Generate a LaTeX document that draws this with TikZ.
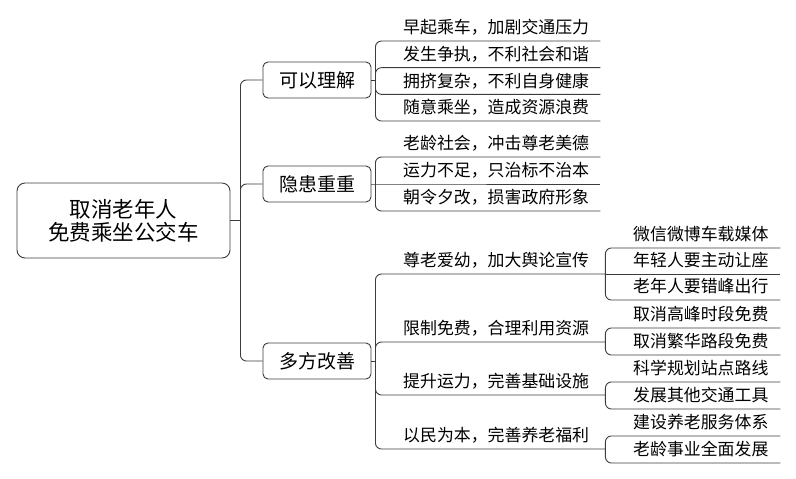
\documentclass[tikz,border=0pt]{standalone}
\usepackage{fontspec}
\setmainfont{Noto Sans CJK SC}
\usepackage{xcolor}
\definecolor{linegray}{RGB}{60,60,60}

\begin{document}
\begin{tikzpicture}[x=1pt, y=-1pt,
    conn/.style={draw=linegray, line width=0.9pt},
    elbow/.style={conn, rounded corners=6pt},
    topic/.style={draw=linegray, line width=0.9pt, rounded corners=5pt, minimum width=108pt, minimum height=36pt, inner sep=0pt, font=\fontsize{19}{22}\selectfont},
    leaf/.style={anchor=south west, inner xsep=0pt, inner ysep=7pt, text depth=0pt, align=left, font=\fontsize{16.9}{20}\selectfont}]
    \useasboundingbox (0,0) rectangle (796,479);

    \node[topic, minimum width=213pt, minimum height=75pt, rounded corners=8pt, align=center, font=\fontsize{21.5}{23}\selectfont] (root) at (123.5,220.5) {取消老年人\\免费乘坐公交车};

    \node[topic] (under) at (317,80) {可以理解};
    \node[topic] (risk) at (317,184) {隐患重重};
    \node[topic] (improve) at (317,361) {多方改善};

    \coordinate (hub) at ([xshift=10pt]root.east);
    \draw[conn] (root.east) -- (hub);
    \foreach \b in {under,risk,improve}
        \draw[elbow] (hub) |- (\b.west);

    \foreach \t [count=\i] in {早起乘车，加剧交通压力, 发生争执，不利社会和谐, 拥挤复杂，不利自身健康, 随意乘坐，造成资源浪费}
        \node[leaf, text width=197pt] (u\i) at (403,14.33+26.67*\i) {\t};
    \coordinate (uj) at ([xshift=4pt]under.east);
    \draw[conn] (under.east) -- (uj);
    \foreach \i in {1,...,4}
        \draw[elbow] (uj) |- (u\i.south east);

    \node[leaf, text width=197pt] (r1) at (403,157) {老龄社会，冲击尊老美德};
    \node[leaf, text width=197pt] (r2) at (403,184) {运力不足，只治标不治本};
    \node[leaf, text width=197pt] (r3) at (403,211) {朝令夕改，损害政府形象};
    \coordinate (rj) at ([xshift=4pt]risk.east);
    \draw[conn] (risk.east) -- (rj) -- (r2.south east);
    \draw[elbow] (rj) |- (r1.south east);
    \draw[elbow] (rj) |- (r3.south east);

    \node[leaf, text width=202pt] (m1) at (403,274) {尊老爱幼，加大舆论宣传};
    \node[leaf, text width=202pt] (m2) at (403,342) {限制免费，合理利用资源};
    \node[leaf, text width=202pt] (m3) at (403,395) {提升运力，完善基础设施};
    \node[leaf, text width=202pt] (m4) at (403,449) {以民为本，完善养老福利};
    \coordinate (mj) at ([xshift=4pt]improve.east);
    \draw[conn] (improve.east) -- (mj);
    \foreach \i in {1,...,4}
        \draw[elbow] (mj) |- (m\i.south east);

    \node[leaf, text width=147pt] (s1) at (633,248) {微信微博车载媒体};
    \node[leaf, text width=147pt] (s2) at (633,274) {年轻人要主动让座};
    \node[leaf, text width=147pt] (s3) at (633,300) {老年人要错峰出行};
    \node[leaf, text width=147pt] (s4) at (633,328) {取消高峰时段免费};
    \node[leaf, text width=147pt] (s5) at (633,355) {取消繁华路段免费};
    \node[leaf, text width=147pt] (s6) at (633,382) {科学规划站点路线};
    \node[leaf, text width=147pt] (s7) at (633,409) {发展其他交通工具};
    \node[leaf, text width=147pt] (s8) at (633,436) {建设养老服务体系};
    \node[leaf, text width=147pt] (s9) at (633,463) {老龄事业全面发展};
    \draw[conn] (m1.south east) -- (s2.south east);
    \draw[elbow] (m1.south east) |- (s1.south east);
    \draw[elbow] (m1.south east) |- (s3.south east);
    \draw[elbow] (m2.south east) |- (s4.south east);
    \draw[elbow] (m2.south east) |- (s5.south east);
    \draw[elbow] (m3.south east) |- (s6.south east);
    \draw[elbow] (m3.south east) |- (s7.south east);
    \draw[elbow] (m4.south east) |- (s8.south east);
    \draw[elbow] (m4.south east) |- (s9.south east);
\end{tikzpicture}
\end{document}
